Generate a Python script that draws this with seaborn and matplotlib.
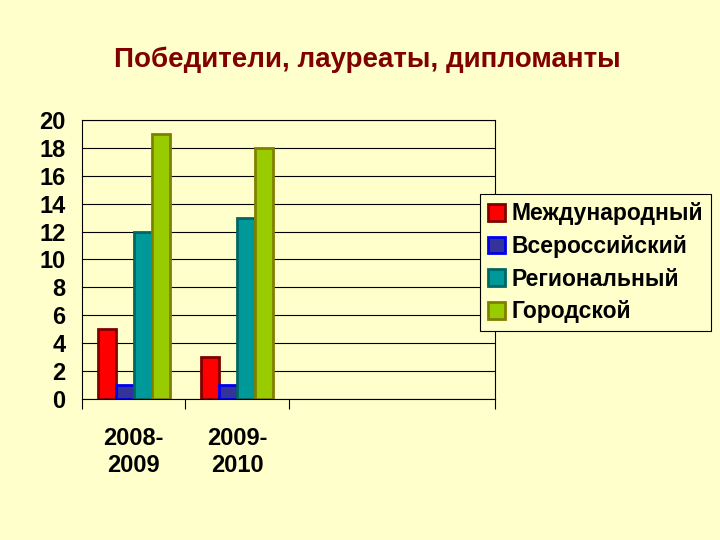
import pandas as pd
import matplotlib.pyplot as plt
import seaborn as sns

# данные с диаграммы
years = ["2008-\n2009", "2009-\n2010"]
levels = ["Международный", "Всероссийский", "Региональный", "Городской"]
mezhd = [5, 3]
vseros = [1, 1]
region = [12, 13]
gorod = [19, 18]

# пустые категории справа, как на исходном графике
order = years + ["", " "]

rows = []
for i, y in enumerate(years):
    for lev, vals in zip(levels, [mezhd, vseros, region, gorod]):
        rows.append({"year": y, "level": lev, "count": vals[i]})
df = pd.DataFrame(rows)

fills = ["#FF0000", "#333399", "#009999", "#99CC00"]
edges = ["#800000", "#0000EE", "#006666", "#808000"]
bg = "#FFFFCC"

sns.set_style("white")
plt.rcParams["font.family"] = ["Liberation Sans", "DejaVu Sans"]
plt.rcParams["font.weight"] = "bold"
plt.rcParams["text.color"] = "black"
plt.rcParams["xtick.color"] = "black"
plt.rcParams["ytick.color"] = "black"

fig = plt.figure(figsize=(7.2, 5.4), dpi=100, facecolor=bg)
ax = fig.add_axes([0.114, 0.261, 0.574, 0.517])
ax.set_facecolor(bg)

sns.barplot(data=df, x="year", y="count", hue="level", order=order,
            hue_order=levels, palette=fills, width=0.7, ax=ax,
            saturation=1, linewidth=2)
# обводка каждой серии своим цветом
for cont, ec in zip(ax.containers, edges):
    for bar in cont:
        bar.set_edgecolor(ec)

ax.set_ylim(0, 20)
ax.set_xlim(-0.5, 3.5)
ax.set_yticks(range(0, 21, 2))
ax.yaxis.grid(True, color="black", linewidth=0.8)
ax.set_axisbelow(True)
for s in ax.spines.values():
    s.set_color("black")
    s.set_linewidth(0.8)

ax.set_xticks([0, 1])
ax.set_xticklabels(years, fontsize=17, fontweight="bold", linespacing=1.25)
ax.tick_params(axis="x", length=0, pad=20)
ax.set_xticks([-0.5, 0.5, 1.5, 3.5], minor=True)
ax.tick_params(axis="x", which="minor", bottom=True, length=7, width=0.8,
               color="black", direction="out")
ax.tick_params(axis="y", length=0, labelsize=17, pad=12)
for t in ax.get_yticklabels():
    t.set_fontweight("bold")
ax.set_xlabel("")
ax.set_ylabel("")

handles, labels = ax.get_legend_handles_labels()
ax.get_legend().remove()
for h, ec in zip(handles, edges):
    h.set_edgecolor(ec)
    h.set_linewidth(2)
leg = fig.legend(handles, labels, loc="upper left",
                 bbox_to_anchor=(0.667, 0.64), frameon=True, framealpha=1,
                 prop={"size": 16.5, "weight": "bold"}, handlelength=0.75,
                 handleheight=0.75, handletextpad=0.25, labelspacing=0.42,
                 borderpad=0.35, fancybox=False, borderaxespad=0)
leg.get_frame().set_facecolor(bg)
leg.get_frame().set_edgecolor("black")
leg.get_frame().set_linewidth(0.8)

fig.text(0.51, 0.89, "Победители, лауреаты, дипломанты", ha="center",
         va="center", color="#800000", fontsize=20, fontweight="bold")

fig.savefig("out.png", facecolor=bg)
